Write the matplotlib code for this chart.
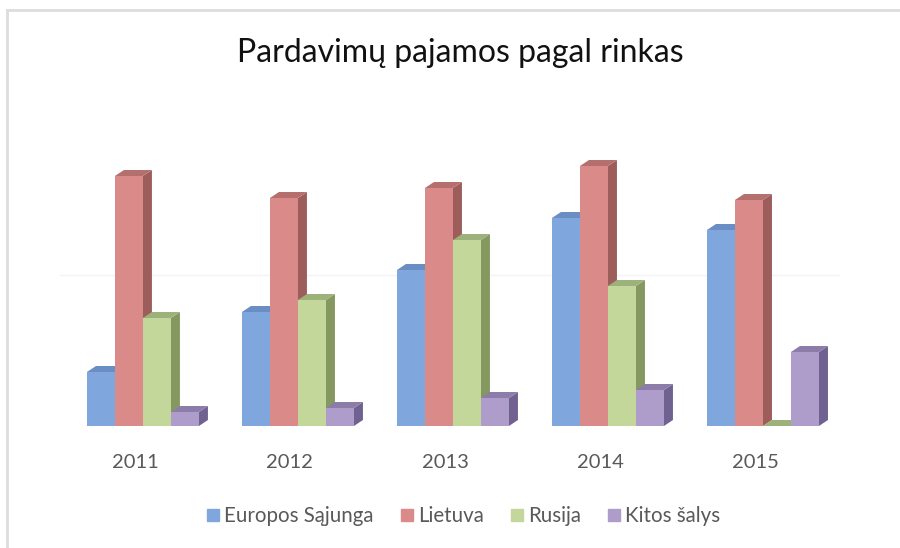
import numpy as np
import matplotlib
matplotlib.use("Agg")
import matplotlib.pyplot as plt
from matplotlib.patches import Polygon, Rectangle
from matplotlib.lines import Line2D

# data (arbitrary units, no value axis shown)
years = ["2011", "2012", "2013", "2014", "2015"]
series = ["Europos Sąjunga", "Lietuva", "Rusija", "Kitos šalys"]
es_vals = [54, 114, 156, 208, 196]
lt_vals = [250, 228, 238, 260, 226]
ru_vals = [108, 126, 186, 140, 0]
other_vals = [14, 18, 28, 36, 74]

front = ["#7FA7DD", "#DA8B89", "#C3D79B", "#AE9CCA"]
side = ["#5B7DB0", "#9C5D5B", "#84985F", "#6F6290"]
top = ["#6A8EC4", "#B56F6D", "#9DB27A", "#8C7CAA"]

plt.rcParams['font.family'] = ['Lato', 'DejaVu Sans']

fig = plt.figure(figsize=(9, 5.48), dpi=100)
ax = fig.add_axes([60 / 900, 122 / 548, 780 / 900, 300 / 548])
ax.set_xlim(-0.535, 4.497)
ax.set_ylim(0, 300)
ax.axis("off")

bw = 28 / 155        # bar width in category units
dx = 9 / 155         # depth offset to the right
dy = 6               # depth offset upward

# faint back wall gridline
ax.axhline(151, color="#F4F4F4", lw=1, zorder=0)

all_vals = [es_vals, lt_vals, ru_vals, other_vals]
for i in range(len(years)):
    for k, vals in enumerate(all_vals):
        h = vals[i]
        x0 = i - 2 * bw + k * bw
        x1 = x0 + bw
        ax.add_patch(Polygon([(x1, 0), (x1 + dx, dy), (x1 + dx, h + dy), (x1, h)],
                             closed=True, fc=side[k], ec="none"))
        ax.add_patch(Polygon([(x0, h), (x1, h), (x1 + dx, h + dy), (x0 + dx, h + dy)],
                             closed=True, fc=top[k], ec="none"))
        if h > 0:
            ax.add_patch(Rectangle((x0, 0), bw, h, fc=front[k], ec="none"))

for i, y in enumerate(years):
    ax.text(i - 8 / 155, -36, y, ha="center", va="center", fontsize=14.5, color="#595959")

fig.text(0.511, 0.903, "Pardavimų pajamos pagal rinkas", ha="center", va="center",
         fontsize=23, color="#111111")

handles = [Line2D([], [], marker="s", ls="none", markersize=8, color=c) for c in front]
fig.legend(handles, series, loc="center", bbox_to_anchor=(0.515, 0.058), ncol=4,
           frameon=False, fontsize=14.8, labelcolor="#595959", handlelength=0.6,
           handletextpad=0.25, columnspacing=1.3)

# light chart border (top and left edges visible)
fig.add_artist(Line2D([7 / 900, 1], [1 - 10 / 548, 1 - 10 / 548], color="#DDDDDD", lw=2))
fig.add_artist(Line2D([7 / 900, 7 / 900], [0, 1 - 10 / 548], color="#DDDDDD", lw=2))

fig.savefig("out.png", dpi=100, facecolor="white")
